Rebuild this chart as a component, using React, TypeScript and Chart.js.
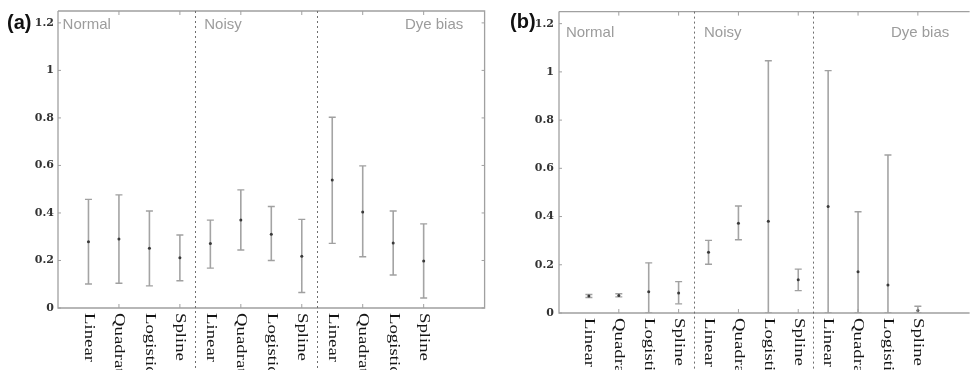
import React, { useEffect, useRef } from "react";
import { Chart, registerables } from "chart.js";

Chart.register(...registerables);

// ---- data ----
const categories = [
  "Linear", "Quadratic", "Logistic", "Spline",
  "Linear", "Quadratic", "Logistic", "Spline",
  "Linear", "Quadratic", "Logistic", "Spline",
];
const groupNames = ["Normal", "Noisy", "Dye bias"];
const separators = [4.5, 8.5];
const majorXTicks = [2, 4, 6, 8, 10, 12];

// panel (a)
const meanA = [0.279, 0.29, 0.251, 0.212, 0.271, 0.37, 0.31, 0.218, 0.539, 0.404, 0.274, 0.198];
const lowA = [0.101, 0.104, 0.093, 0.115, 0.168, 0.244, 0.2, 0.065, 0.272, 0.216, 0.139, 0.042];
const highA = [0.457, 0.476, 0.408, 0.307, 0.37, 0.497, 0.427, 0.373, 0.803, 0.598, 0.408, 0.354];

// panel (b)
const meanB = [0.071, 0.073, 0.088, 0.083, 0.252, 0.372, 0.381, 0.138, 0.442, 0.171, 0.116, 0.01];
const lowB = [0.064, 0.067, 0.0, 0.038, 0.202, 0.304, 0.0, 0.093, 0.0, 0.0, 0.0, 0.0];
const highB = [0.077, 0.08, 0.208, 0.13, 0.301, 0.444, 1.046, 0.182, 1.005, 0.42, 0.655, 0.028];

const decorPlugin = {
  id: "decor",
  afterDraw(chart: any, _args: any, opts: any) {
    const { ctx, chartArea: a, scales } = chart;
    const x = scales.x;
    const y = scales.y;
    ctx.save();
    // frame
    ctx.strokeStyle = "#a0a0a0";
    ctx.lineWidth = 1.3;
    ctx.beginPath();
    ctx.moveTo(a.left, a.top);
    ctx.lineTo(a.left, a.bottom);
    ctx.lineTo(a.right, a.bottom);
    if (opts.rightBorder) {
      ctx.lineTo(a.right, a.top);
      ctx.lineTo(a.left, a.top);
    } else {
      ctx.moveTo(a.left, a.top);
      ctx.lineTo(a.right, a.top);
    }
    ctx.stroke();
    // inward ticks
    ctx.lineWidth = 1;
    ctx.beginPath();
    majorXTicks.forEach((v) => {
      const px = x.getPixelForValue(v);
      ctx.moveTo(px, a.top);
      ctx.lineTo(px, a.top + 4);
      ctx.moveTo(px, a.bottom);
      ctx.lineTo(px, a.bottom - 4);
    });
    y.ticks.forEach((t: any) => {
      const py = y.getPixelForValue(t.value);
      ctx.moveTo(a.left, py);
      ctx.lineTo(a.left + 3, py);
      if (opts.rightBorder) {
        ctx.moveTo(a.right, py);
        ctx.lineTo(a.right - 3, py);
      }
    });
    ctx.stroke();
    // separators
    ctx.strokeStyle = "#6e6e6e";
    ctx.lineWidth = 1;
    ctx.setLineDash([2, 3]);
    ctx.beginPath();
    separators.forEach((v) => {
      const px = Math.round(x.getPixelForValue(v)) + 0.5;
      ctx.moveTo(px, a.top);
      ctx.lineTo(px, chart.height);
    });
    ctx.stroke();
    ctx.setLineDash([]);
    // group labels
    ctx.font = '15px "Liberation Sans", Arial, sans-serif';
    ctx.fillStyle = "#9c9c9c";
    ctx.textBaseline = "middle";
    ctx.textAlign = "left";
    ctx.fillText(groupNames[0], x.getPixelForValue(opts.groupX[0]), opts.groupY);
    ctx.fillText(groupNames[1], x.getPixelForValue(opts.groupX[1]), opts.groupY);
    ctx.textAlign = "right";
    ctx.fillText(groupNames[2], x.getPixelForValue(opts.groupX[2]), opts.groupY);
    // category labels (rotated clockwise, stretched along the text)
    ctx.font = '14px "Liberation Serif", "Times New Roman", serif';
    ctx.fillStyle = "#151515";
    ctx.textAlign = "left";
    ctx.textBaseline = "middle";
    categories.forEach((c, i) => {
      const px = x.getPixelForValue(i + 1);
      ctx.save();
      ctx.translate(px, a.bottom + 5);
      ctx.rotate(Math.PI / 2);
      ctx.scale(1.34, 1);
      ctx.fillText(c, 0, 0);
      ctx.restore();
    });
    ctx.restore();
  },
};

type PanelProps = {
  mean: number[];
  low: number[];
  high: number[];
  left: number;
  width: number;
  yWidth: number;
  xHeight: number;
  padTop: number;
  padRight: number;
  xMax: number;
  rightBorder: boolean;
  groupX: number[];
  groupY: number;
  tickPad: number;
  tag: string;
  tagX: number;
  tagY: number;
};

function Panel(p: PanelProps) {
  const ref = useRef<HTMLCanvasElement>(null);
  useEffect(() => {
    if (!ref.current) return;
    const whisker: any[] = [];
    const caps: any[] = [];
    const means: any[] = [];
    p.mean.forEach((m, i) => {
      whisker.push({ x: i + 1, y: p.low[i] }, { x: i + 1, y: p.high[i] }, { x: i + 1, y: null });
      caps.push({ x: i + 1, y: p.low[i] }, { x: i + 1, y: p.high[i] });
      means.push({ x: i + 1, y: m });
    });
    const chart = new Chart(ref.current, {
      type: "scatter",
      data: {
        datasets: [
          {
            data: whisker,
            showLine: true,
            spanGaps: false,
            borderColor: "#a4a4a4",
            borderWidth: 1.6,
            pointRadius: 0,
            order: 3,
          } as any,
          {
            data: caps,
            pointStyle: "line",
            pointRadius: 3.5,
            borderColor: "#a0a0a0",
            borderWidth: 1.4,
            backgroundColor: "#a0a0a0",
            order: 2,
          } as any,
          {
            data: means,
            pointStyle: "circle",
            pointRadius: 1.5,
            borderWidth: 0,
            backgroundColor: "#3a3a3a",
            order: 1,
          } as any,
        ],
      },
      options: {
        animation: false,
        responsive: false,
        maintainAspectRatio: false,
        layout: { padding: { top: p.padTop, right: p.padRight, left: 0, bottom: 0 } },
        plugins: {
          legend: { display: false },
          tooltip: { enabled: false },
          decor: { rightBorder: p.rightBorder, groupX: p.groupX, groupY: p.groupY },
        } as any,
        scales: {
          x: {
            type: "linear",
            min: 0,
            max: p.xMax,
            ticks: { display: false },
            grid: { display: false, drawTicks: false },
            border: { display: false },
            afterFit: (s: any) => {
              s.height = p.xHeight;
            },
          },
          y: {
            type: "linear",
            min: 0,
            max: 1.25,
            ticks: {
              stepSize: 0.2,
              includeBounds: false,
              padding: p.tickPad,
              color: "#333",
              font: { family: '"DejaVu Serif", serif', size: 11, weight: "bold" },
              callback: (v: any) => String(+Number(v).toFixed(2)),
            },
            grid: { display: false, drawTicks: false },
            border: { display: false },
            afterFit: (s: any) => {
              s.width = p.yWidth;
            },
          },
        },
      } as any,
      plugins: [decorPlugin],
    });
    return () => chart.destroy();
  }, []);
  return (
    <div style={{ position: "absolute", left: p.left, top: 0, width: p.width, height: 370 }}>
      <canvas ref={ref} width={p.width} height={370} style={{ width: p.width, height: 370, display: "block" }} />
      <span
        style={{
          position: "absolute",
          left: p.tagX,
          top: p.tagY,
          font: 'bold 20px "Liberation Sans", Arial, sans-serif',
          color: "#111",
          lineHeight: "24px",
        }}
      >
        {p.tag}
      </span>
    </div>
  );
}

export default function App() {
  return (
    <div style={{ position: "absolute", left: 0, top: 0, width: 975, height: 370, background: "#fff", overflow: "hidden" }}>
      <Panel
        mean={meanA}
        low={lowA}
        high={highA}
        left={0}
        width={490}
        yWidth={58}
        xHeight={62}
        padTop={11}
        padRight={4}
        xMax={14}
        rightBorder={true}
        groupX={[0.15, 4.8, 13.3]}
        groupY={25}
        tickPad={4}
        tag="(a)"
        tagX={7}
        tagY={10}
      />
      <Panel
        mean={meanB}
        low={lowB}
        high={highB}
        left={487}
        width={488}
        yWidth={72}
        xHeight={57}
        padTop={9}
        padRight={0}
        xMax={13.73}
        rightBorder={false}
        groupX={[0.23, 4.85, 13.05]}
        groupY={33}
        tickPad={5}
        tag="(b)"
        tagX={23}
        tagY={9}
      />
    </div>
  );
}
